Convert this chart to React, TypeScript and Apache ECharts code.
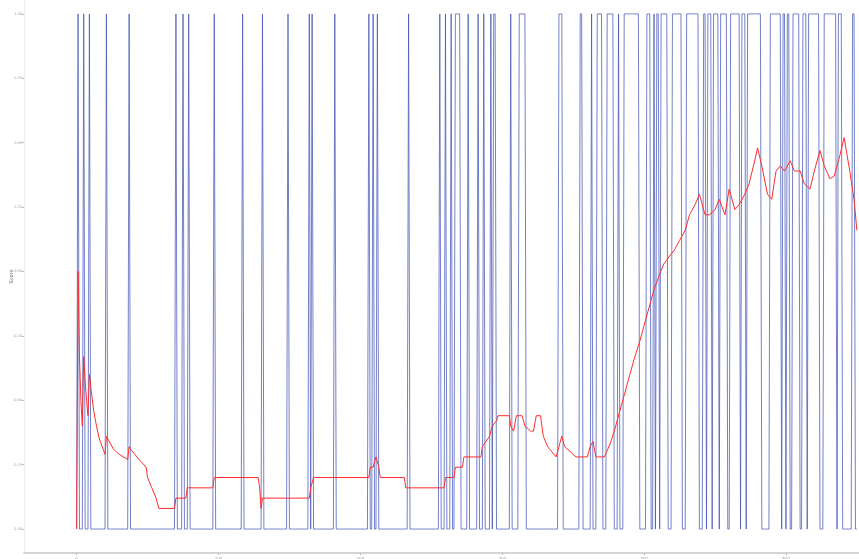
import React, { useEffect, useRef } from "react";
import * as echarts from "echarts";

const pointCount = 551;
const xTicks = [0, 100, 200, 300, 400, 500];
const yTicks = [-1, -0.75, -0.5, -0.25, 0, 0.25, 0.5, 0.75, 1];

// index ranges (inclusive) where the blue score is +1; elsewhere it is -1
const blueHighRuns: [number, number][] = [
  [1, 1], [5, 5], [9, 9], [21, 21], [37, 37], [70, 70], [75, 75], [79, 79],
  [97, 97], [117, 117], [131, 131], [149, 149], [164, 164], [166, 166],
  [182, 182], [206, 206], [209, 209], [212, 212], [234, 234], [256, 256],
  [260, 260], [264, 264], [267, 270], [276, 276], [283, 283], [287, 287],
  [292, 292], [294, 295], [306, 306], [312, 316], [340, 342], [355, 356],
  [363, 363], [367, 370], [374, 378], [382, 382], [386, 396], [402, 404],
  [407, 407], [409, 410], [412, 416], [420, 426], [430, 438], [442, 443],
  [445, 447], [449, 452], [454, 458], [461, 467], [469, 471], [473, 482],
  [489, 496], [498, 499], [501, 502], [505, 509], [512, 514], [516, 523],
  [527, 535], [537, 539], [547, 548],
];

// red rolling average, read as [index, value]
const redPoints: [number, number][] = [
  [0, -1], [1, 0], [2, -0.33], [3, -0.5], [4, -0.6], [5, -0.33], [6, -0.43],
  [7, -0.5], [8, -0.56], [9, -0.4], [10, -0.45], [12, -0.54], [14, -0.6],
  [16, -0.65], [18, -0.68], [20, -0.71], [21, -0.64], [22, -0.65], [26, -0.69],
  [30, -0.71], [36, -0.73], [37, -0.68], [38, -0.69], [44, -0.73], [49, -0.76],
  [50, -0.8], [53, -0.84], [56, -0.88], [58, -0.92], [69, -0.92], [70, -0.88],
  [77, -0.88], [78, -0.84], [96, -0.84], [97, -0.8], [128, -0.8], [129, -0.84],
  [130, -0.92], [131, -0.88], [164, -0.88], [165, -0.84], [167, -0.8],
  [206, -0.8], [207, -0.76], [209, -0.76], [211, -0.72], [213, -0.76],
  [214, -0.8], [231, -0.8], [232, -0.84], [259, -0.84], [260, -0.8],
  [266, -0.8], [267, -0.76], [272, -0.76], [273, -0.72], [285, -0.72],
  [286, -0.68], [291, -0.64], [293, -0.6], [296, -0.58], [297, -0.56],
  [305, -0.56], [306, -0.6], [308, -0.62], [310, -0.56], [314, -0.56],
  [316, -0.6], [320, -0.62], [322, -0.62], [324, -0.56], [327, -0.56],
  [329, -0.64], [332, -0.68], [338, -0.72], [340, -0.68], [342, -0.64],
  [344, -0.68], [352, -0.72], [360, -0.72], [362, -0.68], [364, -0.66],
  [366, -0.72], [372, -0.72], [376, -0.67], [379, -0.62], [383, -0.54],
  [386, -0.48], [390, -0.4], [393, -0.34], [397, -0.27], [400, -0.21],
  [404, -0.13], [407, -0.07], [411, -0.01], [414, 0.03], [418, 0.06],
  [421, 0.08], [425, 0.12], [429, 0.16], [432, 0.22], [436, 0.26], [439, 0.3],
  [443, 0.22], [446, 0.22], [450, 0.24], [453, 0.28], [457, 0.22], [460, 0.32],
  [464, 0.24], [467, 0.26], [471, 0.3], [474, 0.34], [478, 0.43], [480, 0.48],
  [483, 0.41], [487, 0.3], [490, 0.28], [493, 0.39], [496, 0.41], [499, 0.39],
  [503, 0.43], [506, 0.39], [510, 0.39], [513, 0.34], [517, 0.32], [520, 0.39],
  [524, 0.47], [527, 0.41], [531, 0.36], [534, 0.37], [538, 0.45], [541, 0.52],
  [545, 0.39], [548, 0.28], [550, 0.16],
];

export default function App() {
  const ref = useRef<HTMLDivElement>(null);
  useEffect(() => {
    const chart = echarts.init(ref.current!, undefined, { renderer: "svg" });
    const blue: [number, number][] = [];
    for (let i = 0; i < pointCount; i++) {
      const high = blueHighRuns.some(([s, e]) => i >= s && i <= e);
      blue.push([i, high ? 1 : -1]);
    }
    chart.setOption({
      animation: false,
      textStyle: { fontFamily: "DejaVu Sans" },
      grid: {
        left: 24,
        right: 0,
        top: 0,
        bottom: 6,
        containLabel: false,
        outerBoundsMode: "none",
      },
      xAxis: {
        type: "value",
        min: -37.1,
        max: 551.5,
        axisLine: { show: true, onZero: false, lineStyle: { color: "#d4d4d4", width: 2 } },
        axisTick: { show: true, customValues: xTicks, length: 2, lineStyle: { color: "#bbb" } },
        axisLabel: { customValues: xTicks, fontSize: 4, color: "#999", margin: 3 },
        splitLine: { show: false },
      },
      yAxis: {
        type: "value",
        min: -1.093,
        max: 1.054,
        name: "Score",
        nameLocation: "middle",
        nameGap: 11,
        nameMoveOverlap: false,
        nameTextStyle: { fontSize: 5, color: "#666" },
        axisLine: { show: true, onZero: false, lineStyle: { color: "#eeeeee", width: 1 } },
        axisTick: { show: true, customValues: yTicks, length: 2, lineStyle: { color: "#bbb" } },
        axisLabel: {
          customValues: yTicks,
          fontSize: 3.5,
          color: "#999",
          margin: 2,
          formatter: (v: number) => v.toFixed(2),
        },
        splitLine: { show: false },
      },
      series: [
        {
          type: "line",
          data: blue,
          showSymbol: false,
          lineStyle: { color: "#3f51b5", width: 1, opacity: 0.72 },
          z: 1,
        },
        {
          type: "line",
          data: redPoints,
          showSymbol: false,
          lineStyle: { color: "#ff2d2d", width: 1 },
          z: 2,
        },
      ],
    });
    return () => chart.dispose();
  }, []);
  return (
    <div
      ref={ref}
      style={{ position: "fixed", left: 0, top: 0, width: 859, height: 559 }}
    />
  );
}
